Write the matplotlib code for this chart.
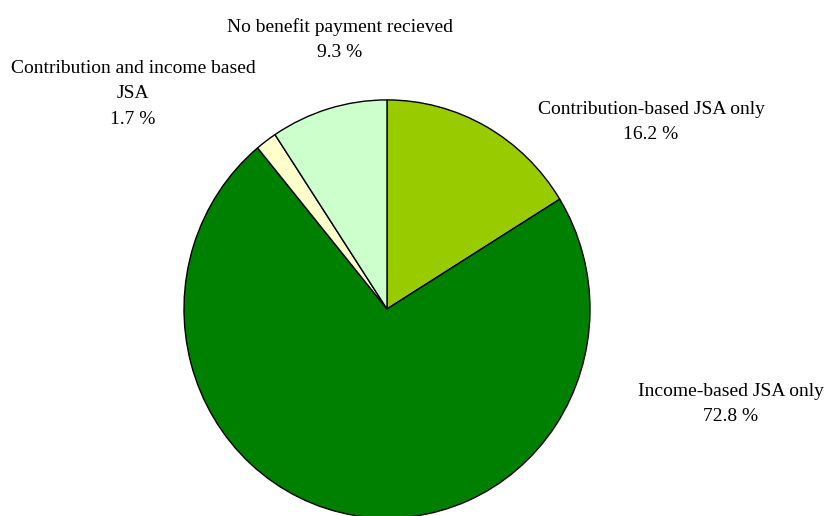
import matplotlib
matplotlib.use("Agg")
import matplotlib.pyplot as plt

# slices, clockwise from 12 o'clock
categories = ["Contribution-based JSA only", "Income-based JSA only",
              "Contribution and income based\nJSA", "No benefit payment recieved"]
shares = [16.2, 72.8, 1.7, 9.3]
colours = ["#99CC00", "#008000", "#FFFFCC", "#CCFFCC"]

# label anchor points in pixels (x, y from top)
label_pos = [(651, 122), (731, 404), (133, 94), (340, 40)]

plt.rcParams['font.family'] = ['Liberation Serif', 'DejaVu Serif']

W, H = 824, 516
sy = 1.03  # pie is slightly taller than wide in the original

fig = plt.figure(figsize=(W / 100, H / 100), dpi=100)
ax = fig.add_axes([0, 0, 1, 1])

ax.pie(shares, colors=colours, startangle=90, counterclock=False,
       center=(387, (H - 309) / sy), radius=203,
       wedgeprops=dict(edgecolor="black", linewidth=1.0))

ax.set_xlim(0, W)
ax.set_ylim(0, H / sy)
ax.set_aspect("auto")
ax.axis("off")

for name, val, (x, y) in zip(categories, shares, label_pos):
    fig.text(x / W, 1 - y / H, "%s\n%.1f %%" % (name, val), ha="center", va="center",
             fontsize=14, linespacing=1.62, color="black")

fig.savefig("out.png", dpi=100)
